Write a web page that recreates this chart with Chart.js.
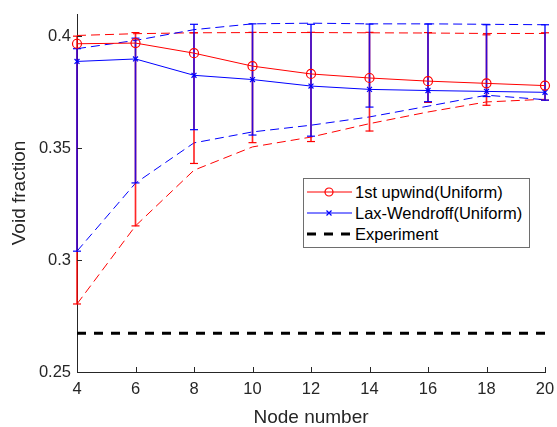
<!DOCTYPE html>
<html>
<head>
<meta charset="utf-8">
<script src="https://cdn.jsdelivr.net/npm/chart.js@4.4.1/dist/chart.umd.min.js"></script>
<style>
  html, body { margin: 0; padding: 0; background: #fff; }
  #wrap { position: relative; width: 557px; height: 427px; }
  #legend {
    position: absolute; left: 303px; top: 178px; width: 225px; height: 68px;
    border: 1px solid #6e6e6e; background: #fff;
    font-family: "Liberation Sans", Arial, sans-serif; font-size: 16.5px; color: #000;
  }
  #legend .row { position: absolute; left: 0; height: 20px; display: flex; align-items: center; }
  #legend svg { display: block; margin-left: 3px; margin-right: 3px; }
</style>
</head>
<body>
<div id="wrap">
  <canvas id="c" width="557" height="427"></canvas>
  <div id="legend"></div>
</div>
<script>
// node counts on the x axis
var nodes = [4, 6, 8, 10, 12, 14, 16, 18, 20];
var xTicks = [4, 6, 8, 10, 12, 14, 16, 18, 20];
var yTicks = [0.25, 0.3, 0.35, 0.4];

// 1st upwind (Uniform)
var upwindMean    = [0.3967, 0.3970, 0.3925, 0.3867, 0.3832, 0.3814, 0.3800, 0.3790, 0.3780];
var upwindErrLow  = [0.2804, 0.3153, 0.3432, 0.3525, 0.3530, 0.3577, 0.3705, 0.3692, 0.3715];
var upwindErrHigh = [0.4001, 0.4017, 0.4016, 0.4018, 0.4018, 0.4018, 0.4017, 0.4007, 0.4016];
var upwindBandHigh = [0.4004, 0.4012, 0.4016, 0.4017, 0.4017, 0.4016, 0.4015, 0.4013, 0.4013];
var upwindBandLow  = [0.2804, 0.3153, 0.3402, 0.3506, 0.3550, 0.3610, 0.3662, 0.3707, 0.3719];

// Lax-Wendroff (Uniform)
var laxMean    = [0.3888, 0.3899, 0.3826, 0.3807, 0.3778, 0.3763, 0.3758, 0.3754, 0.3750];
var laxErrLow  = [0.3040, 0.3345, 0.3583, 0.3559, 0.3554, 0.3684, 0.3708, 0.3731, 0.3715];
var laxErrHigh = [0.3945, 0.3992, 0.4054, 0.4056, 0.4054, 0.4055, 0.4055, 0.4052, 0.4052];
var laxBandHigh = [0.3945, 0.3982, 0.4030, 0.4056, 0.4059, 0.4056, 0.4056, 0.4054, 0.4052];
var laxBandLow  = [0.3040, 0.3344, 0.3524, 0.3573, 0.3603, 0.3640, 0.3688, 0.3737, 0.3717];

// experiment
var expX = [4, 20];
var expY = [0.2673, 0.2673];

var RED = '#ff0000', BLUE = '#0000ff', AXIS = '#262626';
var FONT = '"Liberation Sans", Arial, sans-serif';

function pts(xs, ys) { return xs.map(function(x, i){ return { x: x, y: ys[i] }; }); }
function bars(xs, lo, hi) { return xs.map(function(x, i){ return { x: x, y: [lo[i], hi[i]] }; }); }
function caps(xs, lo, hi) { return pts(xs, lo).concat(pts(xs, hi)); }

function lineSet(label, data, color, dash, order) {
  return { type: 'line', label: label, data: data, borderColor: color, borderWidth: 1,
           borderDash: dash, pointRadius: 0, fill: false, tension: 0, order: order, clip: false };
}

// MATLAB-like inward tick marks
var inwardTicks = {
  id: 'inwardTicks',
  afterDatasetsDraw: function(chart) {
    var ctx = chart.ctx, xs = chart.scales.x, ys = chart.scales.y, a = chart.chartArea;
    ctx.save();
    ctx.strokeStyle = AXIS; ctx.lineWidth = 1;
    ctx.beginPath();
    xs.ticks.forEach(function(t){
      var px = Math.round(xs.getPixelForValue(t.value)) + 0.5;
      ctx.moveTo(px, a.bottom); ctx.lineTo(px, a.bottom - 5);
    });
    ys.ticks.forEach(function(t){
      var py = Math.round(ys.getPixelForValue(t.value)) + 0.5;
      ctx.moveTo(a.left, py); ctx.lineTo(a.left + 5, py);
    });
    ctx.stroke();
    ctx.restore();
  }
};

new Chart(document.getElementById('c'), {
  type: 'line',
  data: {
    datasets: [
      { type: 'line', label: 'Experiment', data: pts(expX, expY), borderColor: '#000', borderWidth: 3,
        borderDash: [9, 8], pointRadius: 0, fill: false, order: 1 },
      lineSet('upwind band high', pts(nodes, upwindBandHigh), RED, [9, 5], 6),
      lineSet('upwind band low', pts(nodes, upwindBandLow), RED, [9, 5], 6),
      lineSet('lax band high', pts(nodes, laxBandHigh), BLUE, [9, 5], 5),
      lineSet('lax band low', pts(nodes, laxBandLow), BLUE, [9, 5], 5),
      { type: 'bar', label: 'upwind err', data: bars(nodes, upwindErrLow, upwindErrHigh),
        backgroundColor: 'rgba(255,0,0,0.85)', barThickness: 1, grouped: false, order: 4, clip: false },
      { type: 'scatter', label: 'upwind caps', data: caps(nodes, upwindErrLow, upwindErrHigh),
        pointStyle: 'line', pointRadius: 4, borderColor: RED, borderWidth: 1.2, showLine: false, order: 4, clip: false },
      { type: 'bar', label: 'lax err', data: bars(nodes, laxErrLow, laxErrHigh),
        backgroundColor: 'rgba(0,0,255,0.8)', barThickness: 1, grouped: false, order: 3, clip: false },
      { type: 'scatter', label: 'lax caps', data: caps(nodes, laxErrLow, laxErrHigh),
        pointStyle: 'line', pointRadius: 4, borderColor: BLUE, borderWidth: 1.2, showLine: false, order: 3, clip: false },
      { type: 'line', label: '1st upwind(Uniform)', data: pts(nodes, upwindMean), borderColor: RED,
        borderWidth: 1, pointStyle: 'circle', pointRadius: 4.5, pointBorderColor: RED,
        pointBackgroundColor: 'rgba(0,0,0,0)', pointBorderWidth: 1.2, fill: false, tension: 0, order: 2, clip: false },
      { type: 'line', label: 'Lax-Wendroff(Uniform)', data: pts(nodes, laxMean), borderColor: BLUE,
        borderWidth: 1, pointStyle: 'crossRot', pointRadius: 3.5, pointBorderColor: BLUE,
        pointBorderWidth: 1.2, fill: false, tension: 0, order: 2, clip: false }
    ]
  },
  options: {
    responsive: false,
    animation: false,
    events: [],
    layout: { padding: { top: 14, right: 12, left: 0, bottom: 0 } },
    plugins: { legend: { display: false }, tooltip: { enabled: false } },
    scales: {
      x: {
        type: 'linear', min: 4, max: 20, offset: false,
        afterBuildTicks: function(s){ s.ticks = xTicks.map(function(v){ return { value: v }; }); },
        afterFit: function(s){ s.height = 55; s.paddingLeft = 0; s.paddingRight = 0; },
        grid: { display: true, drawOnChartArea: false, drawTicks: false },
        border: { display: true, color: AXIS, width: 1 },
        ticks: { padding: 8, color: AXIS, font: { family: FONT, size: 16.5 },
                 callback: function(v){ return String(v); } },
        title: { display: true, text: 'Node number', color: AXIS, padding: 0,
                 font: { family: FONT, size: 19, lineHeight: 1 } }
      },
      y: {
        type: 'linear', min: 0.25, max: 0.41,
        afterBuildTicks: function(s){ s.ticks = yTicks.map(function(v){ return { value: v }; }); },
        afterFit: function(s){ s.width = 77; s.paddingTop = 0; s.paddingBottom = 0; },
        grid: { display: true, drawOnChartArea: false, drawTicks: false },
        border: { display: true, color: AXIS, width: 1 },
        ticks: { padding: 6, color: AXIS, font: { family: FONT, size: 16.5 },
                 callback: function(v){ return String(v); } },
        title: { display: true, text: 'Void fraction', color: AXIS, padding: { top: 8, bottom: 0 },
                 font: { family: FONT, size: 19, lineHeight: 1.2 } }
      }
    }
  },
  plugins: [inwardTicks]
});

// boxed legend inside the plot, like the original
var legendItems = [
  { text: '1st upwind(Uniform)', color: RED, marker: 'circle', dash: '' },
  { text: 'Lax-Wendroff(Uniform)', color: BLUE, marker: 'x', dash: '' },
  { text: 'Experiment', color: '#000', marker: '', dash: '9,8' }
];
var lg = document.getElementById('legend');
legendItems.forEach(function(it, i){
  var row = document.createElement('div');
  row.className = 'row';
  row.style.top = (3 + i * 21) + 'px';
  var svg = '<svg width="45" height="20">';
  if (it.dash) {
    svg += '<line x1="0" y1="10" x2="45" y2="10" stroke="' + it.color + '" stroke-width="3" stroke-dasharray="' + it.dash + '"/>';
  } else {
    svg += '<line x1="0" y1="10" x2="45" y2="10" stroke="' + it.color + '" stroke-width="1"/>';
  }
  if (it.marker === 'circle') svg += '<circle cx="22" cy="10" r="4" fill="none" stroke="' + it.color + '" stroke-width="1.2"/>';
  if (it.marker === 'x') svg += '<path d="M19.5 7.5 L24.5 12.5 M24.5 7.5 L19.5 12.5" stroke="' + it.color + '" stroke-width="1.2"/>';
  svg += '</svg>';
  row.innerHTML = svg + '<span>' + it.text + '</span>';
  lg.appendChild(row);
});
</script>
</body>
</html>
